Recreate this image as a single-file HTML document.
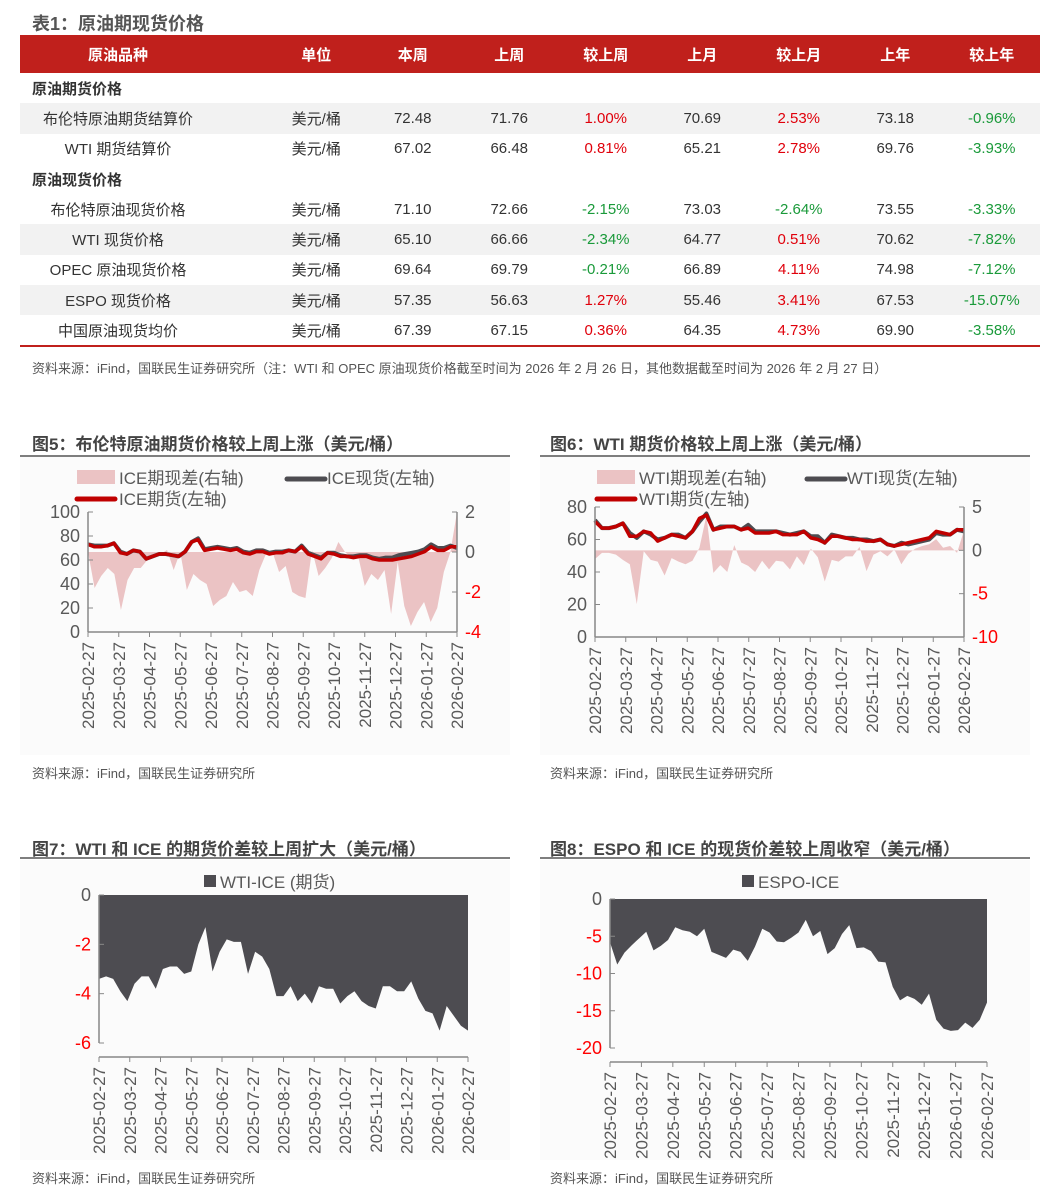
<!DOCTYPE html>
<html><head><meta charset="utf-8">
<style>
*{margin:0;padding:0;box-sizing:border-box}
body{width:1051px;height:1203px;background:#fff;font-family:"Liberation Sans","Noto Sans CJK SC",sans-serif;color:#333;position:relative;overflow:hidden}
.abs{position:absolute}
.ttl{font-weight:bold;color:#555;font-size:18px}
.ctitle{font-weight:bold;color:#444;font-size:17px;white-space:nowrap}
.src{font-size:13px;color:#555;white-space:nowrap}
table{position:absolute;left:20px;top:35px;width:1020px;border-collapse:collapse;font-size:15px;table-layout:fixed}
th{background:#c0201c;color:#fff;height:38px;font-weight:bold;text-align:center}
td{height:30.3px;text-align:center;white-space:nowrap}
th.c1,td.c1{padding-right:52px}
tr.g td{background:#f2f2f2}
td.sec{text-align:left;font-weight:bold;padding-left:12px}
.r{color:#e0000b}.gr{color:#1a9a3a}
svg text{font-family:"Liberation Sans","Noto Sans CJK SC",sans-serif}
</style></head><body>
<div class="abs ttl" style="left:32px;top:10px">表1：原油期现货价格</div>
<table>
<colgroup><col style="width:248px"><col style="width:96.5px"><col style="width:96.5px"><col style="width:96.5px"><col style="width:96.5px"><col style="width:96.5px"><col style="width:96.5px"><col style="width:96.5px"><col style="width:96.5px"></colgroup>
<tr><th class="c1">原油品种</th><th>单位</th><th>本周</th><th>上周</th><th>较上周</th><th>上月</th><th>较上月</th><th>上年</th><th>较上年</th></tr>
<tr><td class="sec" colspan="9">原油期货价格</td></tr>
<tr class="g"><td class="c1">布伦特原油期货结算价</td><td>美元/桶</td><td>72.48</td><td>71.76</td><td class="r">1.00%</td><td>70.69</td><td class="r">2.53%</td><td>73.18</td><td class="gr">-0.96%</td></tr>
<tr><td class="c1">WTI 期货结算价</td><td>美元/桶</td><td>67.02</td><td>66.48</td><td class="r">0.81%</td><td>65.21</td><td class="r">2.78%</td><td>69.76</td><td class="gr">-3.93%</td></tr>
<tr><td class="sec" colspan="9">原油现货价格</td></tr>
<tr><td class="c1">布伦特原油现货价格</td><td>美元/桶</td><td>71.10</td><td>72.66</td><td class="gr">-2.15%</td><td>73.03</td><td class="gr">-2.64%</td><td>73.55</td><td class="gr">-3.33%</td></tr>
<tr class="g"><td class="c1">WTI 现货价格</td><td>美元/桶</td><td>65.10</td><td>66.66</td><td class="gr">-2.34%</td><td>64.77</td><td class="r">0.51%</td><td>70.62</td><td class="gr">-7.82%</td></tr>
<tr><td class="c1">OPEC 原油现货价格</td><td>美元/桶</td><td>69.64</td><td>69.79</td><td class="gr">-0.21%</td><td>66.89</td><td class="r">4.11%</td><td>74.98</td><td class="gr">-7.12%</td></tr>
<tr class="g"><td class="c1">ESPO 现货价格</td><td>美元/桶</td><td>57.35</td><td>56.63</td><td class="r">1.27%</td><td>55.46</td><td class="r">3.41%</td><td>67.53</td><td class="gr">-15.07%</td></tr>
<tr><td class="c1">中国原油现货均价</td><td>美元/桶</td><td>67.39</td><td>67.15</td><td class="r">0.36%</td><td>64.35</td><td class="r">4.73%</td><td>69.90</td><td class="gr">-3.58%</td></tr>
</table>
<div class="abs" style="left:20px;top:345px;width:1020px;height:2px;background:#c0201c"></div>
<div class="abs src" style="left:32px;top:358px">资料来源：iFind，国联民生证券研究所（注：WTI 和 OPEC 原油现货价格截至时间为 2026 年 2 月 26 日，其他数据截至时间为 2026 年 2 月 27 日）</div>

<div class="abs ctitle" style="left:32px;top:430px">图5：布伦特原油期货价格较上周上涨（美元/桶）</div>
<div class="abs ctitle" style="left:550px;top:430px">图6：WTI 期货价格较上周上涨（美元/桶）</div>
<div class="abs ctitle" style="left:32px;top:835px">图7：WTI 和 ICE 的期货价差较上周扩大（美元/桶）</div>
<div class="abs ctitle" style="left:550px;top:835px">图8：ESPO 和 ICE 的现货价差较上周收窄（美元/桶）</div>
<div class="abs src" style="left:32px;top:763px">资料来源：iFind，国联民生证券研究所</div>
<div class="abs src" style="left:550px;top:763px">资料来源：iFind，国联民生证券研究所</div>
<div class="abs src" style="left:32px;top:1168px">资料来源：iFind，国联民生证券研究所</div>
<div class="abs src" style="left:550px;top:1168px">资料来源：iFind，国联民生证券研究所</div>

<svg id="svg" class="abs" style="left:0;top:0" width="1051" height="1203"></svg>

<script>
const dateLabels=["2025-02-27","2025-03-27","2025-04-27","2025-05-27","2025-06-27","2025-07-27","2025-08-27","2025-09-27","2025-10-27","2025-11-27","2025-12-27","2026-01-27","2026-02-27"];
const iceFut=[73,71,71,72,74,66,65,68,67,61,63,65,65,64,63,67,75,77,68,69,70,69,68,69,66,65,67,67,65,66,66,68,67,71,65,63,61,66,65,63,63,62,63,63,61,60,60,60,61,62,63,65,67,71,68,68,71,71];
const iceSpot=[73,72,72,72,74,67,65,68,67,61,63,65,65,64,63,67,75,78,69,70,71,70,69,70,67,66,68,68,66,67,67,68,67,72,66,64,62,66,66,64,63,63,64,64,62,61,62,62,64,65,66,67,69,73,70,70,72,70];
const iceSpread=[0,-1.8,-1.2,-0.8,-1.1,-2.9,-1.4,-0.8,-0.8,-0.4,-0.2,-0.1,0.1,-0.9,0,-1.9,-1.1,-1.4,-1.6,-2.7,-2.4,-2.2,-1.5,-2.0,-1.9,-2.2,-0.9,-0.1,0,-1.0,-0.7,-2.0,-2.2,-2.3,0.1,-1.2,-0.8,-0.3,0.5,0,-0.3,-0.2,-1.7,-1.1,-1.4,-0.9,-3.1,-0.5,-2.7,-3.7,-3.0,-2.5,-3.5,-2.8,-1.0,0,2];
const wtiFut=[71,67,67,68,70,62,62,65,64,59,61,63,62,61,65,73,75,66,67,68,68,66,67,64,64,64,65,63,63,63,65,61,60,58,62,62,61,60,60,59,59,60,57,56,57,58,59,60,61,65,64,63,66,66];
const wtiSpot=[72,67,67,68,70,64,61,65,63,60,61,63,63,61,65,71,76,66,68,68,68,66,69,65,65,65,65,64,63,64,65,62,62,58,63,62,61,61,60,60,59,60,57,56,58,57,58,59,60,64,63,63,66,65];
const wtiSpread=[-1,-0.3,-0.3,-0.5,-1.1,-1.6,-6.2,-0.1,-1.1,-1.3,-2.9,-0.9,-1.3,-1.6,-1.2,0.3,4.0,-2.6,-1.7,-2.5,0.6,-1.4,-1.8,-2.5,-1.2,-2.2,-1.2,-1.3,-2.2,-0.7,-1.7,0.2,-0.8,-3.6,-1.1,-1.3,-0.7,-0.7,0.4,-2.4,-0.5,-0.1,-0.7,0.1,-1.6,-0.4,0.2,0.5,0.7,1.3,0.3,0.5,-0.3,2.3];
const wtiIce=[-3.4,-3.3,-3.4,-3.9,-4.3,-3.6,-3.3,-3.3,-3.8,-3.0,-2.9,-2.9,-3.2,-3.1,-2.0,-1.3,-3.1,-2.3,-1.8,-1.9,-1.9,-3.2,-2.3,-2.5,-3.0,-4.1,-4.1,-3.7,-4.3,-4.0,-4.4,-3.7,-3.8,-3.8,-4.4,-4.1,-3.9,-4.3,-4.5,-4.6,-3.7,-3.7,-3.9,-3.9,-3.5,-4.2,-4.7,-4.8,-5.5,-4.5,-4.9,-5.3,-5.5];
const espoIce=[-5.8,-8.8,-7.2,-6.2,-5.3,-4.4,-6.9,-6.3,-5.5,-3.8,-4.2,-4.4,-5.0,-4.0,-7.1,-7.5,-7.9,-6.8,-7.1,-8.3,-6.4,-4.0,-4.5,-5.7,-5.8,-5.2,-4.5,-2.8,-5.0,-4.3,-7.4,-6.6,-4.7,-3.5,-6.6,-6.5,-7.0,-8.4,-8.5,-11.8,-13.6,-13.0,-13.4,-14.2,-12.7,-16.2,-17.4,-17.7,-17.6,-16.6,-17.3,-16.2,-13.9];
const c5LeftTicks=[0,20,40,60,80,100], c5RightTicks=[-4,-2,0,2];
const c6LeftTicks=[0,20,40,60,80], c6RightTicks=[-10,-5,0,5];
const c7Ticks=[-6,-4,-2,0], c8Ticks=[-20,-15,-10,-5,0];

const svg=document.getElementById('svg');
const NS='http://www.w3.org/2000/svg';
function mk(tag,attrs,parent){const e=document.createElementNS(NS,tag);for(const k in attrs)e.setAttribute(k,attrs[k]);(parent||svg).appendChild(e);return e;}
function txt(s,attrs,parent){const e=mk('text',attrs,parent);e.textContent=s;return e;}
function lin(d0,d1,r0,r1){return v=>r0+(v-d0)/(d1-d0)*(r1-r0);}
function xs(arr,x0,x1){return i=>x0+i*(x1-x0)/(arr.length-1);}
function col(v){return v<0?'#ff0000':'#595959';}

function xAxis(g,x0,x1,y){
  mk('line',{x1:x0,y1:y,x2:x1,y2:y,stroke:'#888','stroke-width':1.5},g);
  dateLabels.forEach((d,i)=>{
    const x=x0+i*(x1-x0)/(dateLabels.length-1);
    mk('line',{x1:x,y1:y,x2:x,y2:y+5,stroke:'#888'},g);
    const t=txt(d,{x:x+6,y:y+10,'font-size':17,fill:'#595959','text-anchor':'end',transform:`rotate(-90 ${x+6} ${y+10})`},g);
    
    
  });
}
function yAxis(g,x,ticks,sy,side,colorFn){
  mk('line',{x1:x,y1:sy(ticks[0]),x2:x,y2:sy(ticks[ticks.length-1]),stroke:'#888','stroke-width':1.5},g);
  ticks.forEach(v=>{
    mk('line',{x1:x,y1:sy(v),x2:side<0?x+5:x-5,y2:sy(v),stroke:'#888'},g);
    const t=txt(String(v),{x:side<0?x-8:x+8,y:sy(v)+6,'font-size':18,fill:colorFn(v),'text-anchor':side<0?'end':'start'},g);
    
    
  });
}
function areaPath(arr,sx,sy,base){let d=`M${sx(0)},${sy(base)}`;arr.forEach((v,i)=>d+=`L${sx(i)},${sy(v)}`);return d+`L${sx(arr.length-1)},${sy(base)}Z`;}
function linePath(arr,sx,sy){return arr.map((v,i)=>(i?'L':'M')+sx(i)+','+sy(v)).join('');}

function dualChart(name,panelX,x0,x1,yTop,yBot,lt,rt,fut,spot,spread,labels){
  const g=mk('g',{});
  
  
  mk('rect',{x:panelX,y:455,width:490,height:300,fill:'#fbfbfb'},g);
  mk('line',{x1:panelX,y1:456,x2:panelX+490,y2:456,stroke:'#555','stroke-width':1.5},g);
  const syL=lin(lt[0],lt[lt.length-1],yBot,yTop), syR=lin(rt[0],rt[rt.length-1],yBot,yTop);
  const a=mk('path',{d:areaPath(spread,xs(spread,x0,x1),syR,0),fill:'#ebc3c4'},g);
  
  
  const s=mk('path',{d:linePath(spot,xs(spot,x0,x1),syL),fill:'none',stroke:'#4d4c51','stroke-width':4,'stroke-linejoin':'round'},g);
  
  
  const f=mk('path',{d:linePath(fut,xs(fut,x0,x1),syL),fill:'none',stroke:'#c00000','stroke-width':3.5,'stroke-linejoin':'round'},g);
  
  
  yAxis(g,x0,lt,syL,-1,()=>'#595959');
  yAxis(g,x1,rt,syR,1,col);
  xAxis(g,x0,x1,yBot);
  const lx=panelX+57;
  mk('rect',{x:lx,y:470,width:38,height:14,fill:'#ebc3c4'},g);
  txt(labels[0],{x:lx+42,y:484,'font-size':17,fill:'#595959'},g);
  mk('line',{x1:lx+210,y1:479,x2:lx+248,y2:479,stroke:'#4d4c51','stroke-width':5,'stroke-linecap':'round'},g);
  txt(labels[1],{x:lx+250,y:484,'font-size':17,fill:'#595959'},g);
  mk('line',{x1:lx,y1:499,x2:lx+38,y2:499,stroke:'#c00000','stroke-width':5,'stroke-linecap':'round'},g);
  txt(labels[2],{x:lx+42,y:505,'font-size':17,fill:'#595959'},g);
}
dualChart('chart5-brent',20,88,457,512,632,c5LeftTicks,c5RightTicks,iceFut,iceSpot,iceSpread,['ICE期现差(右轴)','ICE现货(左轴)','ICE期货(左轴)']);
dualChart('chart6-wti',540,595,964,507,637,c6LeftTicks,c6RightTicks,wtiFut,wtiSpot,wtiSpread,['WTI期现差(右轴)','WTI现货(左轴)','WTI期货(左轴)']);

function spreadChart(name,panelX,x0,x1,yTop,yBot,ticks,data,label,lgx){
  const g=mk('g',{});
  
  
  mk('rect',{x:panelX,y:860,width:490,height:300,fill:'#fbfbfb'},g);
  mk('line',{x1:panelX,y1:858,x2:panelX+490,y2:858,stroke:'#555','stroke-width':1.5},g);
  const sy=lin(ticks[0],ticks[ticks.length-1],yBot,yTop);
  const a=mk('path',{d:areaPath(data,xs(data,x0,x1),sy,0),fill:'#4d4c51'},g);
  
  
  yAxis(g,x0,ticks,sy,-1,col);
  xAxis(g,x0,x1,yBot+14);
  mk('rect',{x:lgx,y:875,width:12,height:12,fill:'#4d4c51'},g);
  txt(label,{x:lgx+16,y:888,'font-size':17,fill:'#595959'},g);
}
spreadChart('chart7-wti-ice',20,99,468,895,1043,c7Ticks,wtiIce,'WTI-ICE (期货)',204);
spreadChart('chart8-espo-ice',540,610,987,899,1048,c8Ticks,espoIce,'ESPO-ICE',742);
</script>
</body></html>
